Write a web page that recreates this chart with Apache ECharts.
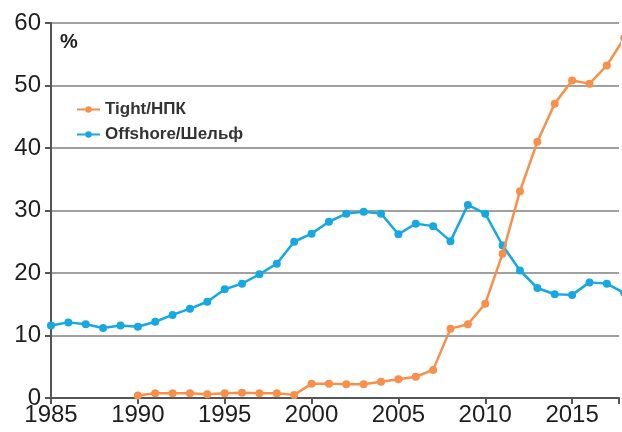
<!DOCTYPE html>
<html>
<head>
<meta charset="utf-8">
<script src="https://cdn.jsdelivr.net/npm/echarts@6/dist/echarts.min.js"></script>
<style>
  html, body { margin: 0; padding: 0; background: #fff; }
  #chart { width: 622px; height: 432px; }
</style>
</head>
<body>
<div id="chart"></div>
<script>
// годы
const offshoreYears = [1985, 1986, 1987, 1988, 1989, 1990, 1991, 1992, 1993, 1994, 1995, 1996,
  1997, 1998, 1999, 2000, 2001, 2002, 2003, 2004, 2005, 2006, 2007, 2008, 2009, 2010, 2011,
  2012, 2013, 2014, 2015, 2016, 2017, 2018];
const offshoreValues = [11.6, 12.1, 11.8, 11.2, 11.6, 11.4, 12.2, 13.3, 14.3, 15.4, 17.4, 18.3,
  19.8, 21.5, 25.0, 26.3, 28.2, 29.5, 29.8, 29.5, 26.2, 27.9, 27.5, 25.1, 30.9, 29.5, 24.4,
  20.4, 17.6, 16.6, 16.5, 18.5, 18.3, 16.8];

const tightYears = [1990, 1991, 1992, 1993, 1994, 1995, 1996, 1997, 1998, 1999, 2000, 2001,
  2002, 2003, 2004, 2005, 2006, 2007, 2008, 2009, 2010, 2011, 2012, 2013, 2014, 2015, 2016,
  2017, 2018];
const tightValues = [0.4, 0.75, 0.75, 0.75, 0.6, 0.75, 0.85, 0.75, 0.75, 0.5, 2.3, 2.3,
  2.2, 2.2, 2.6, 3.0, 3.4, 4.5, 11.1, 11.8, 15.1, 23.1, 33.1, 41.0, 47.1, 50.8, 50.3,
  53.2, 57.6];

const seriesNames = ["Tight/НПК", "Offshore/Шельф"];
const seriesColors = ["#f7904a", "#17a8df"];

let myChart = echarts.init(document.getElementById("chart"));

const pairs = (xs, ys) => xs.map((x, i) => [x, ys[i]]);

let option = {
  animation: false,
  textStyle: { fontFamily: "Liberation Sans, Arial, sans-serif" },
  title: {
    text: "%",
    left: 55,
    top: 27,
    textStyle: { fontSize: 20, fontWeight: "bold", color: "#222" },
  },
  legend: {
    orient: "vertical",
    left: 71,
    top: 96,
    itemWidth: 23,
    itemHeight: 8,
    itemGap: 8,
    textStyle: { fontSize: 17, fontWeight: "bold", color: "#333" },
    data: seriesNames,
  },
  // правый край обрезан, как на исходной картинке
  grid: { left: 51, right: 0, top: 23, bottom: 34, containLabel: false },
  xAxis: {
    type: "value",
    min: 1985,
    max: 2017.7,
    interval: 5,
    axisLine: { lineStyle: { color: "#555", width: 2 } },
    axisTick: { show: true, length: 6, lineStyle: { color: "#555", width: 2 } },
    axisLabel: {
      fontSize: 24,
      color: "#1e1e1e",
      margin: 5,
      formatter: (v) => (v % 5 === 0 ? String(v) : ""),
    },
    splitLine: { show: false },
  },
  yAxis: {
    type: "value",
    min: 0,
    max: 60,
    interval: 10,
    axisLine: { show: true, lineStyle: { color: "#555", width: 2 } },
    axisTick: { show: true, length: 6, lineStyle: { color: "#555", width: 2 } },
    axisLabel: { fontSize: 24, color: "#1e1e1e", margin: 10 },
    splitLine: { show: true, lineStyle: { color: "#808080", width: 1.5 } },
  },
  series: [
    {
      name: seriesNames[0],
      type: "line",
      data: pairs(tightYears, tightValues),
      symbol: "circle",
      symbolSize: 8,
      clip: false,
      z: 3,
      lineStyle: { width: 2.5, color: seriesColors[0] },
      itemStyle: { color: seriesColors[0] },
    },
    {
      name: seriesNames[1],
      type: "line",
      data: pairs(offshoreYears, offshoreValues),
      symbol: "circle",
      symbolSize: 8,
      clip: false,
      z: 2,
      lineStyle: { width: 2.5, color: seriesColors[1] },
      itemStyle: { color: seriesColors[1] },
    },
  ],
};

myChart.setOption(option);
</script>
</body>
</html>
